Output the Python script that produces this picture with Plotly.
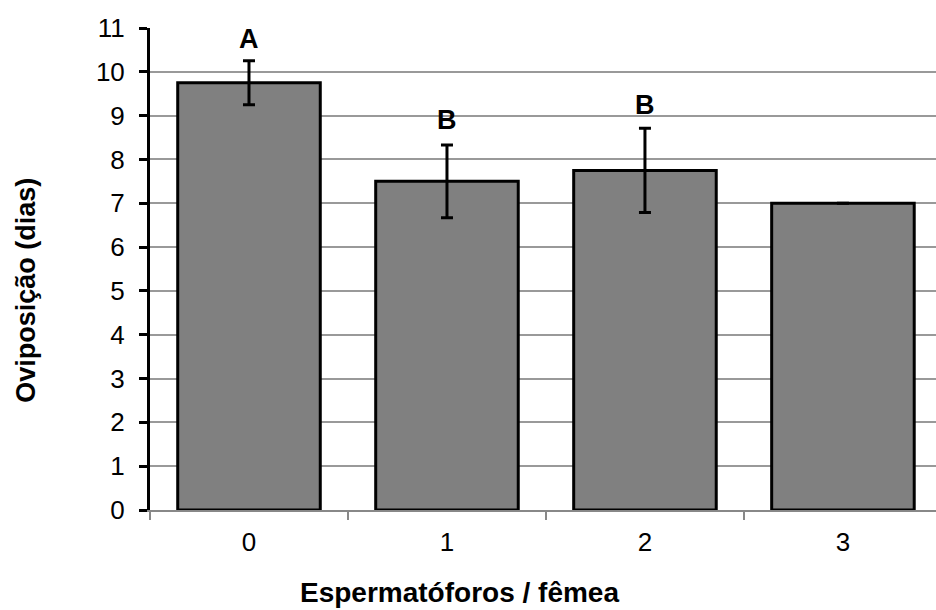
import plotly.graph_objects as go

# Oviposition period by number of spermatophores per female
categories = ["0", "1", "2", "3"]
means = [9.75, 7.5, 7.75, 7.0]
errors = [0.5, 0.83, 0.96, 0.0]
letters = ["A", "B", "B", ""]
letter_y = [10.76, 8.9, 9.25, None]
y_ticks = list(range(0, 12))

FONT = "Liberation Sans, Arial, sans-serif"

fig = go.Figure()
fig.add_trace(go.Bar(
    x=categories,
    y=means,
    width=0.72,
    marker=dict(color="#808080", line=dict(color="black", width=3)),
    error_y=dict(type="data", array=errors, visible=True,
                 color="black", thickness=3, width=6),
    showlegend=False,
))

# significance letters above the bars
for cat, lab, ly in zip(categories, letters, letter_y):
    if lab:
        fig.add_annotation(x=cat, y=ly, text="<b>%s</b>" % lab, showarrow=False,
                           font=dict(family=FONT, size=27, color="black"))

# axis titles placed as free annotations
fig.add_annotation(xref="paper", yref="paper", x=0.394, y=-0.172,
                   xanchor="center", yanchor="middle",
                   text="<b>Espermatóforos / fêmea</b>", showarrow=False,
                   font=dict(family=FONT, size=28, color="black"))
fig.add_annotation(xref="paper", yref="paper", x=-0.157, y=0.456,
                   xanchor="center", yanchor="middle",
                   text="<b>Oviposição (dias)</b>", showarrow=False, textangle=-90,
                   font=dict(family=FONT, size=27, color="black"))

fig.update_layout(
    width=936, height=610,
    margin=dict(l=150, r=0, t=28, b=100),
    paper_bgcolor="white", plot_bgcolor="white",
    font=dict(family=FONT, color="black"),
    bargap=0.28,
)
fig.update_xaxes(
    type="category",
    range=[-0.5, 3.47],
    tickson="boundaries",
    ticks="outside", ticklen=8, tickwidth=2, tickcolor="#888888",
    showline=True, linecolor="#888888", linewidth=2,
    showgrid=False,
    tickfont=dict(family=FONT, size=26, color="black"),
    ticklabelstandoff=8,
)
fig.update_yaxes(
    range=[0, 11],
    tickvals=y_ticks,
    ticks="outside", ticklen=8, tickwidth=3, tickcolor="black",
    showline=True, linecolor="black", linewidth=3,
    showgrid=True, gridcolor="#999999", gridwidth=2,
    zeroline=False,
    tickfont=dict(family=FONT, size=26, color="black"),
    ticklabelstandoff=9,
)

fig.write_html("out.html")
